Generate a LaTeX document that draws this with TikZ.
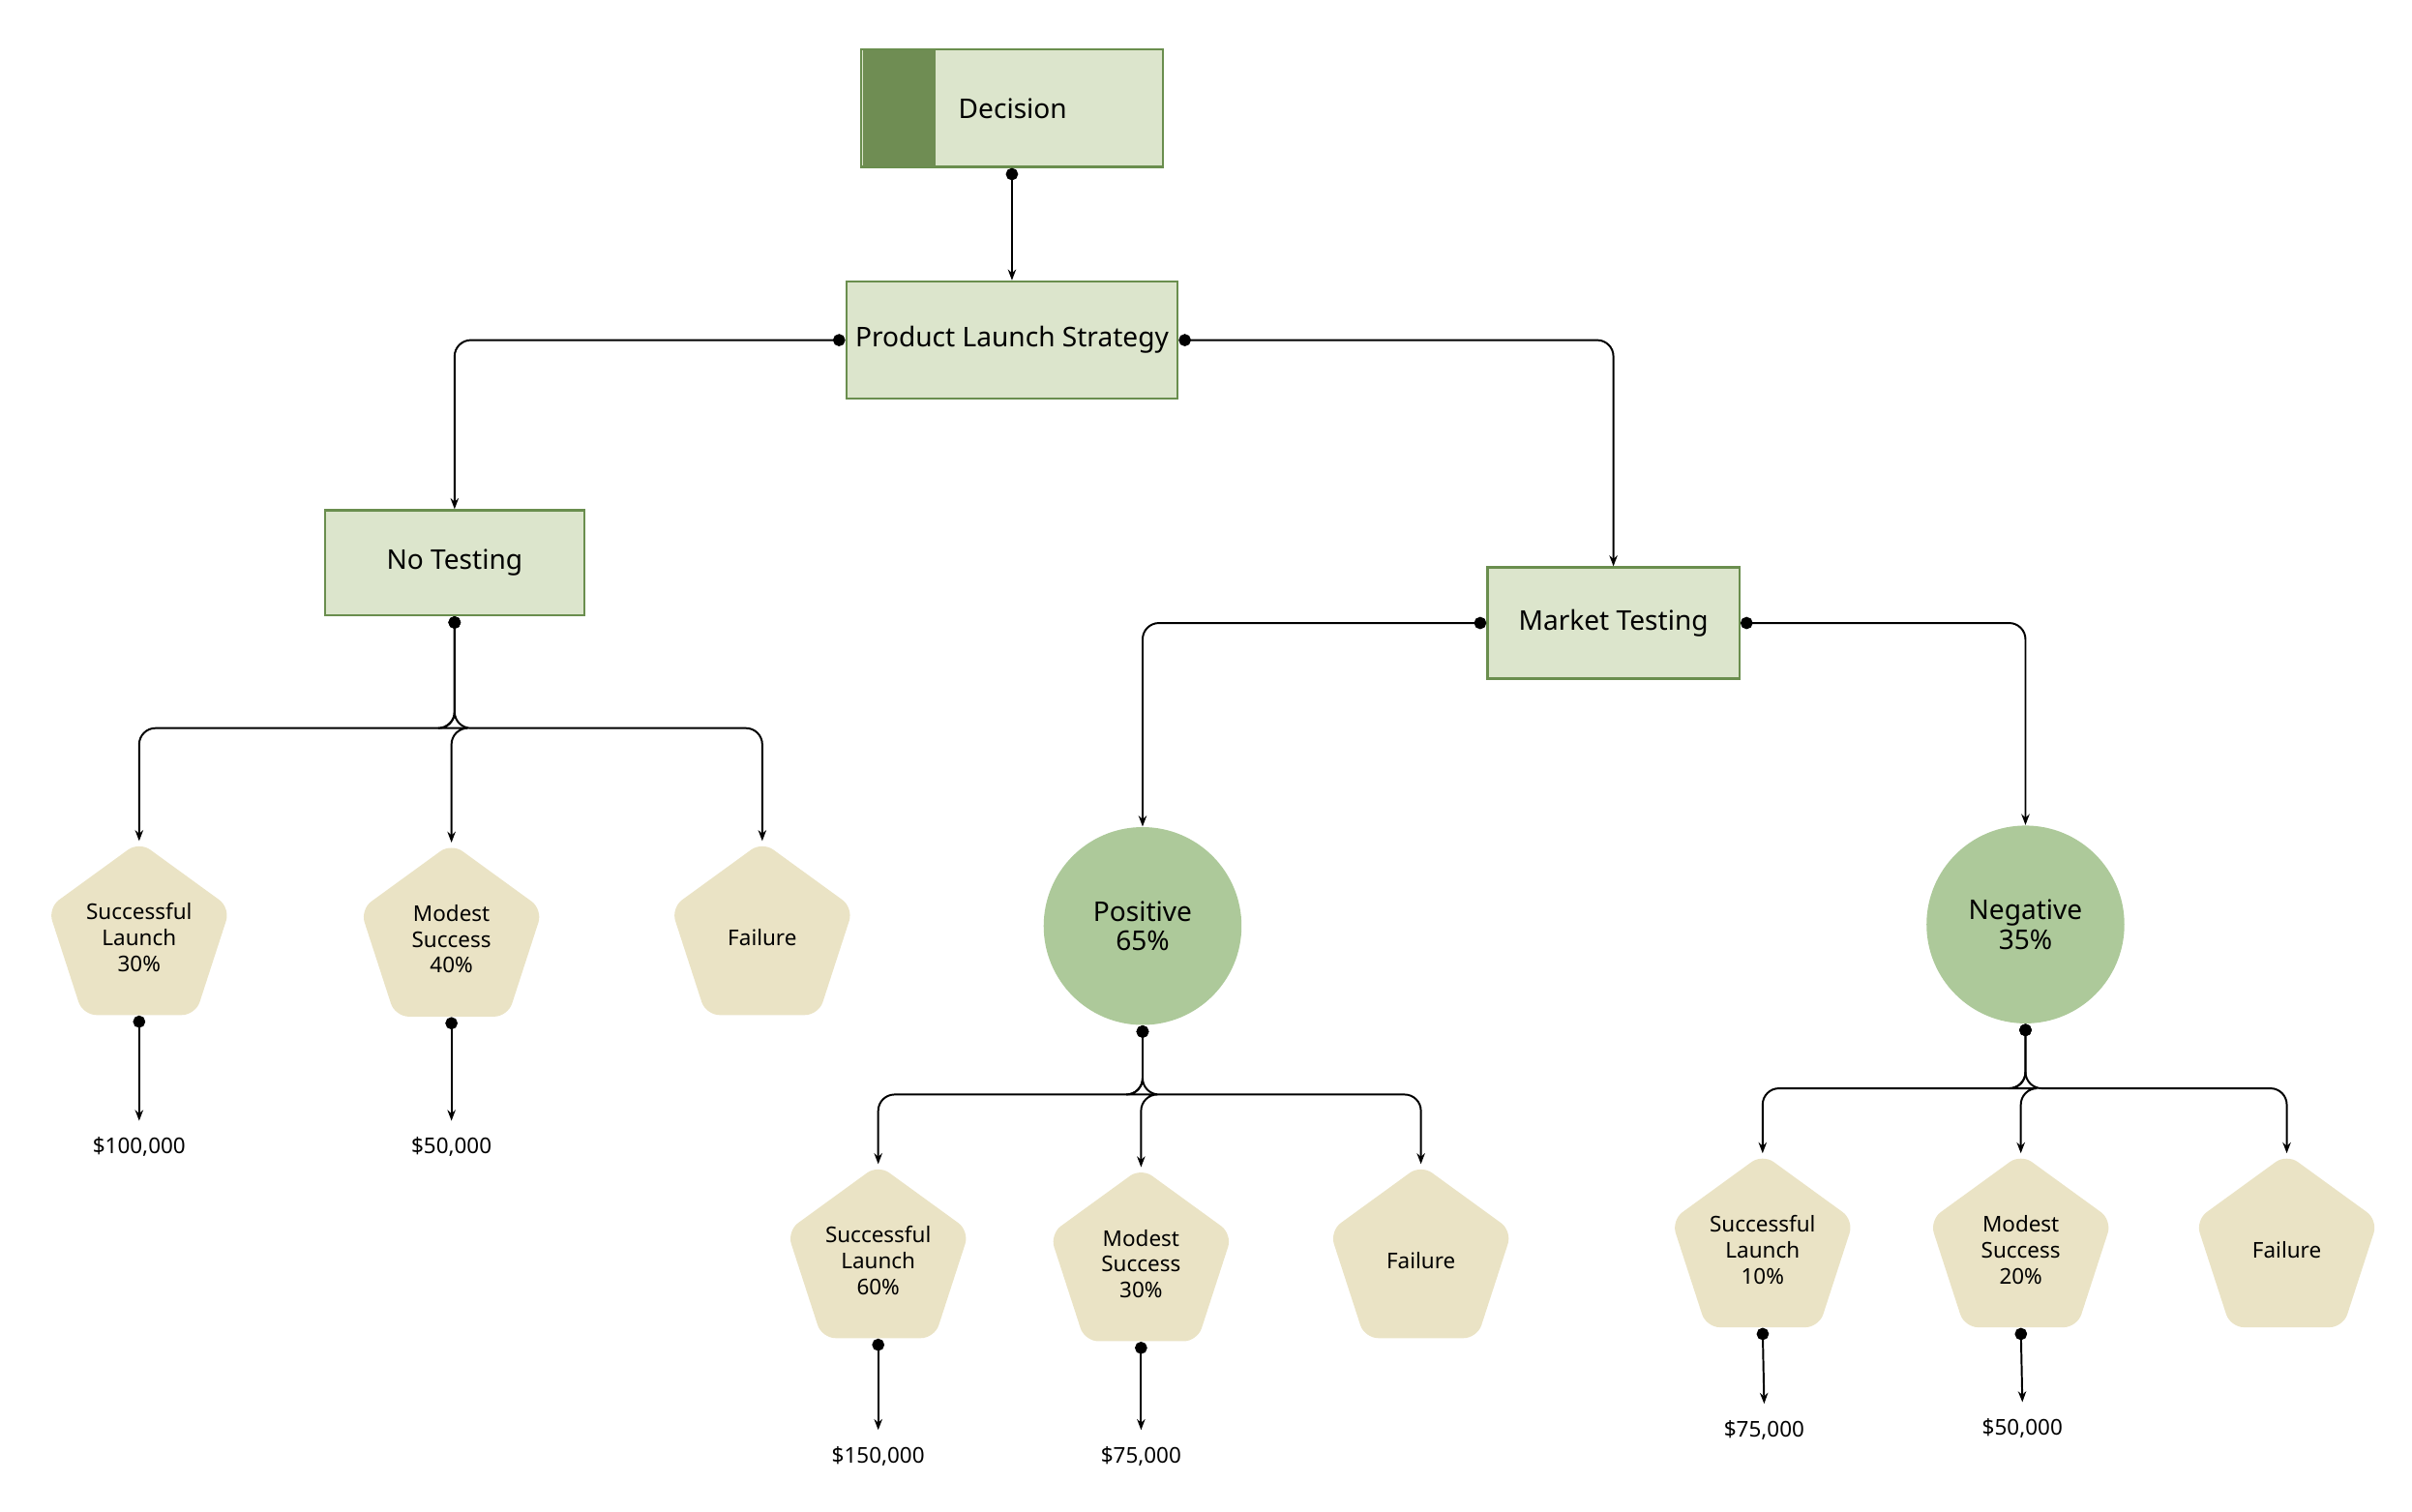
\documentclass[tikz,border=0pt]{standalone}
\usepackage{fontspec}
\setmainfont{Noto Sans}
\usetikzlibrary{shapes.geometric,arrows.meta}
\definecolor{boxf}{HTML}{DCE5CC}
\definecolor{boxd}{HTML}{6A8E4E}
\definecolor{strip}{HTML}{6F8D53}
\definecolor{pentf}{HTML}{EAE3C5}
\definecolor{circf}{HTML}{ADC99A}
\begin{document}
\begin{tikzpicture}[x=0.02cm,y=-0.02cm,
 box/.style={draw=boxd,fill=boxf,line width=0.8pt,font=\fontsize{10}{12}\selectfont},
 pent/.style={regular polygon,regular polygon sides=5,minimum size=2.48cm,fill=pentf,rounded corners=5pt,anchor=corner 1,align=center,font=\fontsize{8}{9.5}\selectfont,inner sep=0pt},
 circ/.style={circle,fill=circf,minimum size=2.56cm,align=center,font=\fontsize{10}{11}\selectfont},
 val/.style={font=\fontsize{8}{10}\selectfont},
 con/.style={{Circle[length=4.5pt]}-{Stealth[length=4pt,width=3pt]},line width=0.7pt,rounded corners=6pt}]
\useasboundingbox (0,0) rectangle (1560,978);
\node[box,minimum width=3.9cm,minimum height=1.52cm] (dec) at (654.5,70) {};
\fill[strip] (558,32.5) rectangle (605,107.5);
\node[font=\fontsize{10}{12}\selectfont] (dect) at (655,70) {Decision};
\node[box,minimum width=3.9cm,minimum height=1.52cm] (pls) at (654.5,220) {Product Launch Strategy};
\node[box,minimum width=3.36cm,minimum height=1.36cm] (nt) at (294,364) {No Testing};
\node[box,minimum width=3.26cm,minimum height=1.44cm] (mt) at (1043.5,403) {Market Testing};
\node[circ] (pos) at (739,599) {Positive\\65\%};
\node[circ] (neg) at (1310,598) {Negative\\35\%};
\node[pent] (a1) at (90,544) {Successful\\Launch\\30\%};
\node[pent] (a2) at (292,545) {Modest\\Success\\40\%};
\node[pent] (a3) at (493,544) {Failure};
\node[pent] (b1) at (568,753) {Successful\\Launch\\60\%};
\node[pent] (b2) at (738,755) {Modest\\Success\\30\%};
\node[pent] (b3) at (919,753) {Failure};
\node[pent] (c1) at (1140,746) {Successful\\Launch\\10\%};
\node[pent] (c2) at (1307,746) {Modest\\Success\\20\%};
\node[pent] (c3) at (1479,746) {Failure};
\draw[con] (dec.south) -- (pls.north);
\draw[con] (pls.west) -| (nt.north);
\draw[con] (pls.east) -| (mt.north);
\draw[con] (mt.west) -| (pos.north);
\draw[con] (mt.east) -| (neg.north);
\coordinate (j1) at (294,471);
\coordinate (j2) at (739,708);
\coordinate (j3) at (1310,704);
\foreach \p in {a1,a2,a3} \draw[con] (nt.south) -- (j1) -| (\p.corner 1);
\foreach \p in {b1,b2,b3} \draw[con] (pos.south) -- (j2) -| (\p.corner 1);
\foreach \p in {c1,c2,c3} \draw[con] (neg.south) -- (j3) -| (\p.corner 1);
\node[val] (v1) at (90,742) {\$100,000};
\node[val] (v2) at (292,742) {\$50,000};
\node[val] (v3) at (568,942) {\$150,000};
\node[val] (v4) at (738,942) {\$75,000};
\node[val] (v5) at (1141,925) {\$75,000};
\node[val] (v6) at (1308,924) {\$50,000};
\coordinate (e1) at (90,725); \coordinate (e2) at (292,725);
\coordinate (e3) at (568,925); \coordinate (e4) at (738,925);
\coordinate (e5) at (1141,908); \coordinate (e6) at (1308,907);
\draw[con] (a1.side 3) -- (e1);
\draw[con] (a2.side 3) -- (e2);
\draw[con] (b1.side 3) -- (e3);
\draw[con] (b2.side 3) -- (e4);
\draw[con] (c1.side 3) -- (e5);
\draw[con] (c2.side 3) -- (e6);
\end{tikzpicture}
\end{document}
